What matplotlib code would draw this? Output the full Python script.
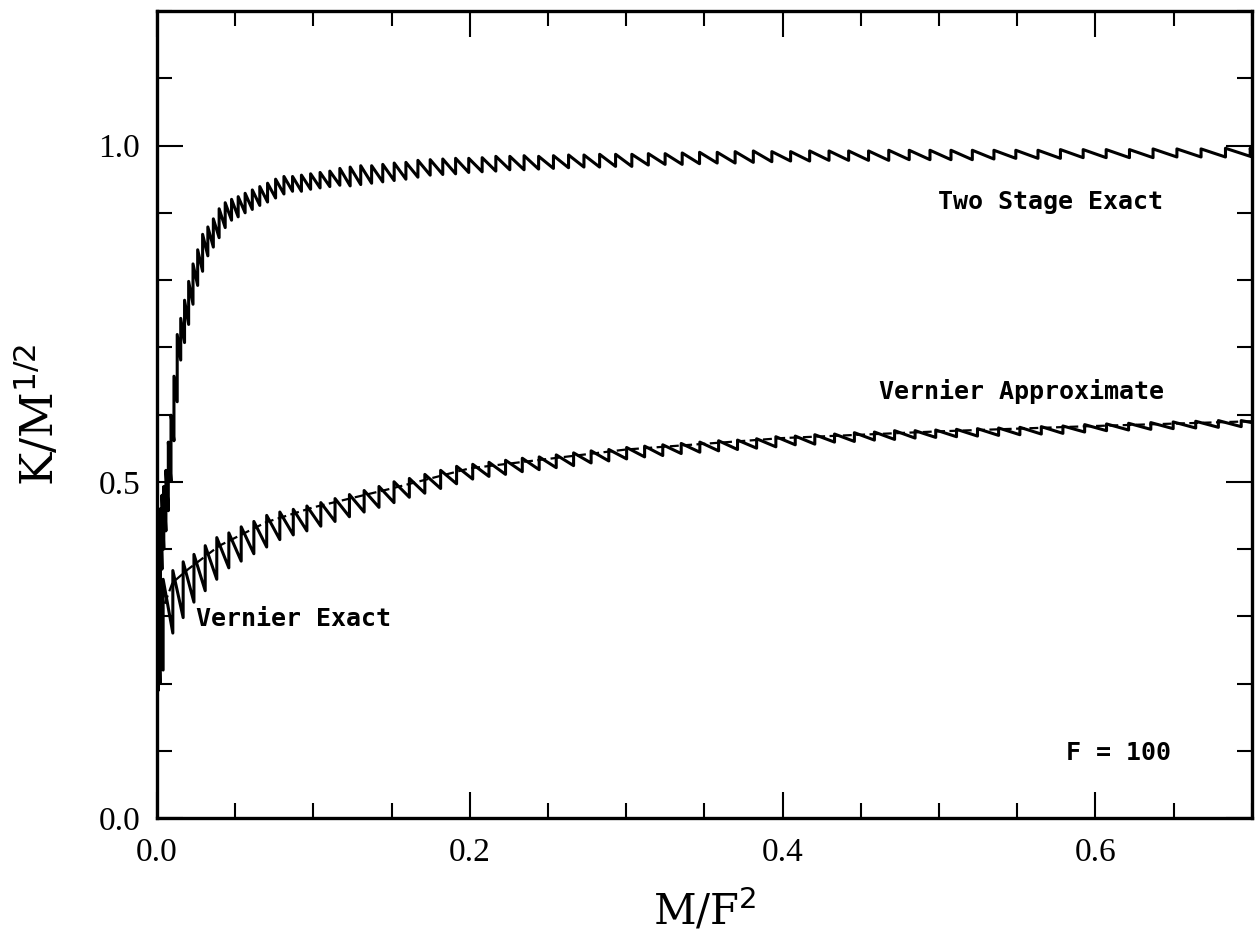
import numpy as np
import matplotlib
matplotlib.use("Agg")
import matplotlib.pyplot as plt
from matplotlib.ticker import MultipleLocator

# Two Stage Exact: posicoes dos saltos (dentes), eixo M/F^2
x_2est = [0.00009, 0.00036, 0.00081, 0.00144, 0.00226, 0.00325, 0.00442, 0.00578,
          0.00731, 0.00903, 0.01092, 0.01300, 0.01525, 0.01769, 0.02031, 0.02310,
          0.02608, 0.02924, 0.03258, 0.03610, 0.03980, 0.04368, 0.04774, 0.05198,
          0.05641, 0.06101, 0.06579, 0.07076, 0.07590, 0.08123, 0.08673, 0.09242,
          0.09828, 0.10433, 0.11056, 0.11697, 0.12356, 0.13032, 0.13728, 0.14440,
          0.15171, 0.15920, 0.16687, 0.17472, 0.18276, 0.19097, 0.19937, 0.20794,
          0.21669, 0.22563, 0.23474, 0.24404, 0.25352, 0.26318, 0.27302, 0.28304,
          0.29324, 0.30362, 0.31418, 0.32490, 0.33582, 0.34692, 0.35820, 0.36966,
          0.38130, 0.39313, 0.40513, 0.41731, 0.42968, 0.44223, 0.45496, 0.46787,
          0.48096, 0.49423, 0.50766, 0.52130, 0.53511, 0.54910, 0.56327, 0.57762,
          0.59215, 0.60686, 0.62176, 0.63683, 0.65208, 0.66752, 0.68313, 0.69893]
# valor logo apos o salto (alto) e no fim do dente (baixo)
alto_2est = [0.30, 0.36, 0.40, 0.43, 0.46, 0.48, 0.493, 0.517, 0.559, 0.599, 0.657, 0.719,
             0.743, 0.770, 0.798, 0.824, 0.845, 0.868, 0.879, 0.891, 0.906, 0.915, 0.920, 0.924,
             0.929, 0.934, 0.939, 0.944, 0.950, 0.954, 0.954, 0.956, 0.958, 0.960, 0.962, 0.966,
             0.968, 0.970, 0.970, 0.972, 0.974, 0.975, 0.978, 0.979, 0.980, 0.981, 0.981, 0.982,
             0.984, 0.984, 0.985, 0.984, 0.985, 0.986, 0.986, 0.987, 0.987, 0.987, 0.988, 0.988,
             0.989, 0.990, 0.990, 0.991, 0.992, 0.991, 0.991, 0.992, 0.992, 0.992, 0.992, 0.993,
             0.993, 0.993, 0.993, 0.993, 0.993, 0.993, 0.993, 0.994, 0.994, 0.994, 0.994, 0.995,
             0.995, 0.995, 0.996, 0.996]
baixo_2est = [0.20, 0.24, 0.29, 0.33, 0.37, 0.40, 0.427, 0.457, 0.501, 0.561, 0.619, 0.681,
              0.707, 0.734, 0.764, 0.792, 0.813, 0.836, 0.849, 0.863, 0.878, 0.889, 0.894, 0.900,
              0.905, 0.911, 0.916, 0.922, 0.928, 0.932, 0.932, 0.935, 0.937, 0.939, 0.941, 0.940,
              0.942, 0.944, 0.946, 0.948, 0.950, 0.953, 0.956, 0.957, 0.958, 0.960, 0.961, 0.962,
              0.964, 0.964, 0.965, 0.966, 0.967, 0.968, 0.968, 0.969, 0.969, 0.971, 0.972, 0.972,
              0.973, 0.974, 0.974, 0.975, 0.976, 0.977, 0.977, 0.978, 0.978, 0.978, 0.978, 0.979,
              0.979, 0.979, 0.979, 0.980, 0.981, 0.981, 0.981, 0.982, 0.982, 0.982, 0.982, 0.983,
              0.983, 0.983, 0.984, 0.984]

# Vernier Exact: saltos mais espacados perto da origem
x_vern = [0.0003, 0.0010, 0.0020, 0.0040, 0.0102, 0.0168, 0.0237, 0.0309, 0.0383, 0.0460,
          0.0539, 0.0620, 0.0702, 0.0786, 0.0872, 0.0959, 0.1048, 0.1139, 0.1231, 0.1325,
          0.1420, 0.1516, 0.1614, 0.1713, 0.1814, 0.1916, 0.2019, 0.2123, 0.2229, 0.2336,
          0.2444, 0.2553, 0.2664, 0.2776, 0.2889, 0.3003, 0.3118, 0.3234, 0.3352, 0.3471,
          0.3591, 0.3712, 0.3834, 0.3957, 0.4081, 0.4206, 0.4332, 0.4459, 0.4587, 0.4716,
          0.4847, 0.4979, 0.5112, 0.5246, 0.5381, 0.5517, 0.5654, 0.5792, 0.5931, 0.6071,
          0.6212, 0.6354, 0.6497, 0.6641, 0.6786, 0.6932]
alto_vern = [0.28, 0.33, 0.35, 0.355, 0.368, 0.381, 0.392, 0.405, 0.417, 0.424,
             0.433, 0.441, 0.450, 0.455, 0.459, 0.464, 0.469, 0.475, 0.481, 0.487,
             0.493, 0.500, 0.505, 0.511, 0.517, 0.523, 0.526, 0.529, 0.532, 0.535,
             0.537, 0.540, 0.543, 0.546, 0.548, 0.551, 0.553, 0.555, 0.557, 0.559,
             0.561, 0.562, 0.564, 0.567, 0.568, 0.570, 0.571, 0.573, 0.574, 0.576,
             0.576, 0.577, 0.578, 0.579, 0.580, 0.581, 0.582, 0.583, 0.585, 0.586,
             0.587, 0.588, 0.589, 0.590, 0.591, 0.591]
baixo_vern = [0.19, 0.20, 0.22, 0.275, 0.298, 0.321, 0.338, 0.355, 0.372, 0.382,
              0.393, 0.403, 0.414, 0.421, 0.427, 0.434, 0.441, 0.448, 0.455, 0.462,
              0.469, 0.477, 0.483, 0.490, 0.497, 0.504, 0.508, 0.511, 0.515, 0.518,
              0.521, 0.524, 0.528, 0.531, 0.534, 0.537, 0.539, 0.542, 0.544, 0.546,
              0.548, 0.550, 0.552, 0.555, 0.556, 0.559, 0.560, 0.562, 0.563, 0.565,
              0.566, 0.567, 0.568, 0.569, 0.570, 0.571, 0.572, 0.574, 0.576, 0.577,
              0.578, 0.579, 0.580, 0.581, 0.582, 0.588]

# Vernier Approximate (tracejada)
x_aprox = [0.002, 0.01, 0.02, 0.04, 0.07, 0.10, 0.15, 0.20, 0.30, 0.40, 0.50, 0.60, 0.70]
y_aprox = [0.30, 0.35, 0.37, 0.405, 0.44, 0.462, 0.49, 0.52, 0.548, 0.565, 0.575, 0.583, 0.59]

x_fim = 0.7


def serra(x, alto, baixo, fim):
    '''Monta o caminho dente de serra: salto vertical e descida ate o proximo salto.'''
    xs, ys = [], []
    for i in range(len(x)):
        prox = x[i + 1] if i + 1 < len(x) else fim
        xs += [x[i], prox]
        ys += [alto[i], baixo[i]]
    return np.array(xs), np.array(ys)


fig = plt.figure(figsize=(12.55, 9.46), dpi=100)
ax = fig.add_axes([0.125, 0.1353, 0.8725, 0.853])

xs, ys = serra(x_2est, alto_2est, baixo_2est, x_fim)
ax.plot(xs, ys, color='black', lw=2.2)
xs, ys = serra(x_vern, alto_vern, baixo_vern, x_fim)
ax.plot(xs, ys, color='black', lw=2.2)
ax.plot(x_aprox, y_aprox, color='black', lw=1.6, dashes=(4, 2))

ax.set_xlim(0, 0.7)
ax.set_ylim(0, 1.2)
ax.set_xticks([0.0, 0.2, 0.4, 0.6])
ax.set_yticks([0.0, 0.5, 1.0])
ax.xaxis.set_minor_locator(MultipleLocator(0.05))
ax.yaxis.set_minor_locator(MultipleLocator(0.1))
ax.tick_params(which='both', direction='in', top=True, right=True, width=1.5)
ax.tick_params(which='major', length=19, labelsize=24)
ax.tick_params(which='minor', length=11)
ax.tick_params(axis='x', pad=14)
ax.tick_params(axis='y', pad=12)
for lab in ax.get_xticklabels() + ax.get_yticklabels():
    lab.set_fontfamily('Liberation Serif')
for s in ax.spines.values():
    s.set_linewidth(2.4)

plt.rcParams['mathtext.fontset'] = 'dejavuserif'
ax.set_xlabel(r'M/F$^2$', fontsize=30, family='DejaVu Serif')
ax.set_ylabel(r'K/M$^{1/2}$', fontsize=32, family='DejaVu Serif')
ax.xaxis.set_label_coords(0.5, -0.085)
ax.yaxis.set_label_coords(-0.086, 0.5)

fonte = dict(family='DejaVu Sans Mono', weight='bold', fontsize=18)
ax.text(0.571, 0.905, 'Two Stage Exact', ha='center', va='baseline', **fonte)
ax.text(0.553, 0.623, 'Vernier Approximate', ha='center', va='baseline', **fonte)
ax.text(0.0876, 0.286, 'Vernier Exact', ha='center', va='baseline', **fonte)
ax.text(0.615, 0.086, 'F = 100', ha='center', va='baseline', **fonte)

fig.savefig('out.png', dpi=100)
